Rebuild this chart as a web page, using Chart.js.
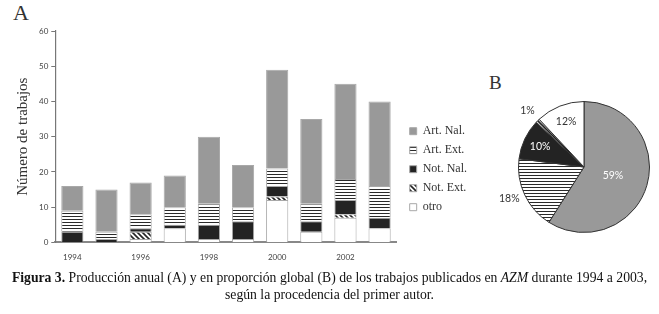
<!DOCTYPE html>
<html lang="es">
<head>
  <meta charset="UTF-8">
  <title>Figura 3 - Producción anual</title>
  <script src="https://cdn.jsdelivr.net/npm/chart.js"></script>
  <style>
    body { margin: 0; background: #fff; width: 659px; height: 314px; position: relative; overflow: hidden; }
    #barBox { position: absolute; left: 0; top: 0; width: 485px; height: 274px; }
    #pieBox { position: absolute; left: 494px; top: 82px; width: 180px; height: 170px; }
    .panel { position: absolute; font-family: "Liberation Serif", "Times New Roman", serif; color: #333; line-height: 1; }
    #labA { left: 13px; top: 2px; font-size: 22px; }
    #labB { left: 489px; top: 73px; font-size: 19px; }
    #caption { position: absolute; left: 0; top: 269px; width: 659px; text-align: center;
      font-family: "Liberation Serif", "Times New Roman", serif; font-size: 13.7px; line-height: 17px; color: #111; }
  </style>
</head>
<body>
  <div class="panel" id="labA">A</div>
  <div class="panel" id="labB">B</div>
  <div id="barBox"><canvas id="barChart"></canvas></div>
  <div id="pieBox"><canvas id="pieChart"></canvas></div>
  <div id="caption"><b>Figura 3.</b> Producción anual (A) y en proporción global (B) de los trabajos publicados en <i>AZM</i> durante 1994 a 2003,<br>según la procedencia del primer autor.</div>

  <script>
    // Years and counts per category
    const years = ['1994', '1995', '1996', '1997', '1998', '1999', '2000', '2001', '2002', '2003'];
    const otro   = [0, 0, 1, 4, 1, 1, 12, 3, 7, 4];
    const notExt = [0, 0, 2, 0, 0, 0, 1, 0, 1, 0];
    const notNal = [3, 1, 1, 1, 4, 5, 3, 3, 4, 3];
    const artExt = [6, 2, 4, 5, 6, 4, 5, 5, 6, 9];
    const artNal = [7, 12, 9, 9, 19, 12, 28, 24, 27, 24];
    const yTicks = [0, 10, 20, 30, 40, 50, 60];

    // Global proportions (panel B), percent
    const pieCategories = ['Art. Nal.', 'Art. Ext.', 'Not. Nal.', 'Not. Ext.', 'otro'];
    const pieValues = [59, 18, 10, 1, 12];

    function stripes() {
      const c = document.createElement('canvas');
      c.width = 6; c.height = 3;
      const g = c.getContext('2d');
      g.fillStyle = '#fff'; g.fillRect(0, 0, 6, 3);
      g.fillStyle = '#2a2a2a'; g.fillRect(0, 0, 6, 1);
      return g.createPattern(c, 'repeat');
    }

    function hatch() {
      const c = document.createElement('canvas');
      c.width = 5; c.height = 5;
      const g = c.getContext('2d');
      g.fillStyle = '#fff'; g.fillRect(0, 0, 5, 5);
      g.strokeStyle = '#222'; g.lineWidth = 1.6;
      g.beginPath();
      g.moveTo(-1, -1); g.lineTo(6, 6);
      g.moveTo(-1, 4); g.lineTo(1, 6);
      g.moveTo(4, -1); g.lineTo(6, 1);
      g.stroke();
      return g.createPattern(c, 'repeat');
    }

    const grayNal = '#999999';
    const darkNal = '#232323';
    const edge = '#a8a8a8';
    const sansFont = 'Lato, "Open Sans", sans-serif';
    const serifFont = '"Liberation Serif", "Times New Roman", serif';

    function barSet(label, data, fill) {
      return { label: label, data: data, backgroundColor: fill, borderColor: edge, borderWidth: 1,
               categoryPercentage: 1, barPercentage: 0.65 };
    }

    // nudge the legend a few pixels away from the plot
    const legendShift = {
      id: 'legendShift',
      afterLayout(chart) {
        chart.legend.left += 6;
        chart.legend.right += 6;
      }
    };

    new Chart(document.getElementById('barChart').getContext('2d'), {
      type: 'bar',
      data: {
        labels: years,
        datasets: [
          barSet('otro', otro, '#ffffff'),
          barSet('Not. Ext.', notExt, hatch()),
          barSet('Not. Nal.', notNal, darkNal),
          barSet('Art. Ext.', artExt, stripes()),
          barSet('Art. Nal.', artNal, grayNal)
        ]
      },
      options: {
        responsive: true,
        maintainAspectRatio: false,
        animation: false,
        layout: { padding: { left: 10, right: 14, top: 31, bottom: 2 } },
        plugins: {
          tooltip: { enabled: false },
          legend: {
            position: 'right',
            reverse: true,
            title: { display: true, text: ' ', padding: { top: 21 }, font: { size: 12 } },
            labels: {
              boxWidth: 7, boxHeight: 7, padding: 7, color: '#333',
              font: { family: serifFont, size: 12 }
            }
          }
        },
        scales: {
          x: {
            stacked: true,
            grid: { display: false, drawTicks: false },
            border: { color: '#888', width: 2 },
            ticks: {
              color: '#444', padding: 10, maxRotation: 0, autoSkip: false,
              font: { family: sansFont, size: 8 },
              callback: function (v, i) { return i % 2 === 0 ? years[i] : ''; }
            }
          },
          y: {
            stacked: true,
            min: yTicks[0],
            max: yTicks[yTicks.length - 1],
            grid: { drawOnChartArea: false, tickLength: 4, color: '#777' },
            border: { color: '#777', width: 1.2 },
            ticks: {
              stepSize: 10, color: '#444', padding: 3,
              font: { family: sansFont, size: 8 }
            },
            title: {
              display: true, text: 'Número de trabajos', color: '#333', padding: 4,
              font: { family: serifFont, size: 15 }
            }
          }
        }
      },
      plugins: [legendShift]
    });

    const pieLabels = {
      id: 'pieLabels',
      afterDatasetsDraw(chart) {
        const ctx = chart.ctx;
        const meta = chart.getDatasetMeta(0);
        const radius = [0.46, 1.26, 0.74, 1.22, 0.74];
        const colors = ['#fff', '#333', '#fff', '#333', '#333'];
        ctx.save();
        ctx.font = '10.5px ' + sansFont;
        ctx.textAlign = 'center';
        ctx.textBaseline = 'middle';
        meta.data.forEach(function (arc, i) {
          const mid = (arc.startAngle + arc.endAngle) / 2;
          const r = arc.outerRadius * radius[i];
          ctx.fillStyle = colors[i];
          ctx.fillText(pieValues[i] + '%', arc.x + Math.cos(mid) * r, arc.y + Math.sin(mid) * r - (i === 1 ? 4 : 0));
        });
        ctx.restore();
      }
    };

    new Chart(document.getElementById('pieChart').getContext('2d'), {
      type: 'pie',
      data: {
        labels: pieCategories,
        datasets: [{
          data: pieValues,
          backgroundColor: [grayNal, stripes(), darkNal, hatch(), '#ffffff'],
          borderColor: '#333',
          borderWidth: 1
        }]
      },
      options: {
        responsive: true,
        maintainAspectRatio: false,
        animation: false,
        layout: { padding: { left: 24, right: 24, top: 19, bottom: 19 } },
        plugins: { legend: { display: false }, tooltip: { enabled: false } }
      },
      plugins: [pieLabels]
    });
  </script>
</body>
</html>
